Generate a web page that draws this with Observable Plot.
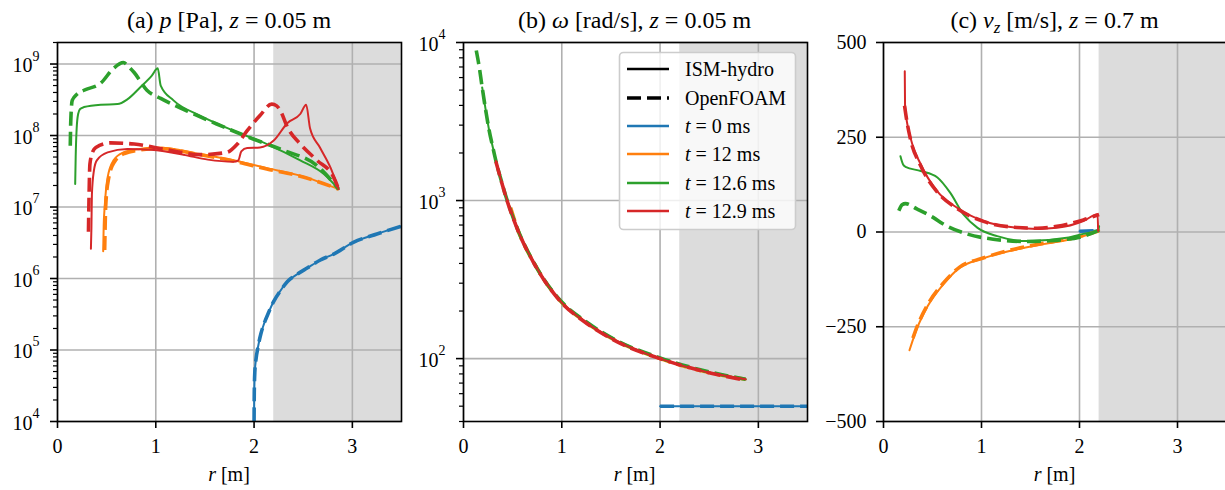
<!DOCTYPE html>
<html>
<head>
<meta charset="utf-8">
<script src="https://cdn.jsdelivr.net/npm/d3@7"></script>
<script src="https://cdn.jsdelivr.net/npm/@observablehq/plot@0.6"></script>
<style>
  body { margin: 0; background: #fff; }
  #fig { position: relative; width: 1225px; height: 490px; overflow: hidden; background: #fff;
         font-family: "Liberation Serif", "Times New Roman", serif; color: #000; }
  .panel { position: absolute; top: 0; }
  #fig svg text, #fig svg tspan { font-family: "Liberation Serif", "Times New Roman", serif !important; }
  #overlay { position: absolute; left: 0; top: 0; pointer-events: none; }
</style>
</head>
<body>
<div id="fig"></div>
<script>
// ---------------- data ----------------
const X_TICKS = [0, 1, 2, 3];
const SHADE = [2.2, 3.5];
const T_LABELS = ["0", "12", "12.6", "12.9"];
const T_COLORS = ["#1f77b4", "#ff7f0e", "#2ca02c", "#d62728"];
const MODEL_LABELS = ["ISM-hydro", "OpenFOAM"];

// (a) pressure p [Pa] vs r [m]
const A_MAJOR = [1e4, 1e5, 1e6, 1e7, 1e8, 1e9];
const A_EXP = ["4", "5", "6", "7", "8", "9"];
const pT0 = [[2.0, 1e4], [2.002, 2.5e4], [2.008, 5.0e4], [2.02, 7.5e4], [2.04, 1.1e5], [2.07, 1.7e5],
  [2.10, 2.3e5], [2.15, 3.4e5], [2.20, 4.8e5], [2.27, 6.8e5], [2.34, 9.1e5], [2.44, 1.15e6],
  [2.54, 1.4e6], [2.67, 1.8e6], [2.81, 2.2e6], [3.01, 3.2e6], [3.25, 4.2e6], [3.5, 5.4e6]];
const pIsm12 = [[0.465, 2.4e6], [0.47, 5.5e6], [0.48, 1.0e7], [0.51, 2.6e7], [0.57, 4.5e7], [0.67, 5.8e7],
  [0.84, 6.5e7], [1.02, 6.8e7], [1.45, 5.5e7], [1.79, 4.5e7], [2.13, 3.5e7], [2.47, 2.75e7], [2.86, 1.78e7]];
const pOf12 = [[0.48, 2.5e6], [0.485, 5.5e6], [0.49, 1.0e7], [0.52, 2.5e7], [0.58, 4.3e7], [0.68, 5.6e7],
  [0.85, 6.3e7], [1.02, 6.6e7], [1.45, 5.4e7], [1.79, 4.4e7], [2.13, 3.4e7], [2.47, 2.7e7], [2.86, 1.78e7]];
const pIsm126 = [[0.18, 2.1e7], [0.185, 5.0e7], [0.195, 1.26e8], [0.21, 2.0e8], [0.23, 2.35e8], [0.27, 2.5e8],
  [0.44, 2.7e8], [0.61, 2.75e8], [0.71, 3.2e8], [0.84, 4.7e8], [0.96, 6.9e8], [1.02, 8.7e8], [1.05, 5.0e8],
  [1.18, 3.1e8], [1.45, 1.9e8], [1.79, 1.17e8], [2.13, 7.6e7], [2.47, 4.5e7], [2.71, 2.9e7], [2.86, 1.78e7]];
const pOf126 = [[0.13, 7.2e7], [0.135, 1.6e8], [0.15, 3.1e8], [0.20, 3.8e8], [0.27, 4.3e8], [0.44, 5.4e8],
  [0.57, 8.7e8], [0.67, 1.05e9], [0.72, 9.3e8], [0.78, 7.6e8], [0.91, 4.3e8], [1.05, 3.3e8], [1.32, 2.2e8],
  [1.62, 1.45e8], [1.96, 9.3e7], [2.30, 6.2e7], [2.64, 3.8e7], [2.86, 1.78e7]];
const pIsm129 = [[0.34, 2.6e6], [0.345, 5.0e6], [0.35, 1.5e7], [0.37, 3.2e7], [0.40, 4.5e7], [0.51, 5.8e7],
  [0.71, 6.5e7], [0.95, 6.3e7], [1.28, 5.4e7], [1.53, 4.6e7], [1.79, 4.3e7], [1.84, 4.5e7], [1.87, 6.0e7],
  [1.93, 6.7e7], [2.06, 6.8e7], [2.20, 8.5e7], [2.34, 1.5e8], [2.47, 2.0e8], [2.53, 2.7e8], [2.57, 1.25e8],
  [2.67, 6.8e7], [2.78, 3.5e7], [2.86, 1.78e7]];
const pOf129 = [[0.315, 4.5e6], [0.32, 1.2e7], [0.33, 4.0e7], [0.36, 6.0e7], [0.39, 6.8e7], [0.54, 7.9e7],
  [0.78, 7.6e7], [1.12, 6.3e7], [1.45, 5.4e7], [1.72, 5.8e7], [1.83, 7.6e7], [1.93, 1.17e8], [2.06, 1.9e8],
  [2.18, 2.75e8], [2.23, 2.6e8], [2.27, 2.2e8], [2.34, 1.3e8], [2.47, 7.6e7], [2.64, 4.5e7], [2.81, 2.6e7],
  [2.86, 1.78e7]];

// (b) angular velocity omega [rad/s] vs r [m]
const B_MAJOR = [1e2, 1e3, 1e4];
const B_EXP = ["2", "3", "4"];
const wT0 = [[2.0, 50], [3.5, 50]];
const wIsm12 = [[0.47, 920], [0.55, 660], [0.72, 400], [1.0, 226], [1.22, 174], [1.56, 129], [2.0, 100],
  [2.41, 84], [2.87, 74]];
const wOf12 = [[0.48, 900], [0.55, 660], [0.72, 400], [1.0, 226], [1.22, 174], [1.56, 129], [2.0, 100],
  [2.41, 84], [2.87, 74]];
const wIsm126 = [[0.19, 5200], [0.23, 3600], [0.26, 2800], [0.30, 2150], [0.33, 1780], [0.39, 1300],
  [0.445, 1000], [0.55, 660], [0.72, 400], [1.0, 226], [1.22, 174], [1.56, 129], [2.0, 100], [2.41, 84], [2.87, 74]];
const wOf126 = [[0.13, 8900], [0.16, 7000], [0.19, 5200], [0.23, 3600], [0.26, 2800], [0.30, 2150],
  [0.33, 1780], [0.39, 1300], [0.445, 1000], [0.55, 660], [0.72, 400], [1.0, 228], [1.22, 176], [1.56, 130],
  [2.0, 101], [2.41, 85], [2.87, 74]];
const wIsm129 = [[0.33, 1780], [0.39, 1300], [0.445, 1000], [0.55, 660], [0.72, 400], [1.0, 226], [1.22, 174],
  [1.56, 129], [2.0, 100], [2.41, 84], [2.87, 74]];
const wOf129 = [[0.33, 1760], [0.39, 1290], [0.445, 990], [0.55, 655], [0.72, 398], [1.0, 225], [1.22, 173],
  [1.56, 128], [2.0, 100], [2.41, 84], [2.87, 73]];

// (c) axial velocity v_z [m/s] vs r [m]
const C_TICKS = [-500, -250, 0, 250, 500];
const vT0 = [[2.0, 2], [2.2, 4]];
const vIsm12 = [[0.265, -312], [0.33, -262], [0.45, -196], [0.61, -138], [0.78, -94], [1.0, -71], [1.29, -50],
  [1.63, -32], [1.98, -15], [2.14, -2], [2.2, 5]];
const vOf12 = [[0.30, -280], [0.33, -258], [0.45, -192], [0.61, -135], [0.78, -92], [1.0, -70], [1.29, -48],
  [1.63, -30], [1.98, -13], [2.2, 3]];
const vIsm126 = [[0.173, 200], [0.20, 178], [0.224, 172], [0.38, 161], [0.55, 144], [0.68, 104], [0.82, 45],
  [0.96, 11], [1.16, -11], [1.46, -24], [1.87, -15], [2.04, -5], [2.19, 3], [2.2, 15]];
const vOf126 = [[0.156, 56], [0.19, 72], [0.224, 75], [0.34, 61], [0.51, 38], [0.61, 21], [0.85, -5],
  [1.12, -19], [1.46, -25], [1.70, -23], [2.04, -11], [2.2, 5]];
const vIsm129 = [[0.217, 424], [0.22, 330], [0.275, 249], [0.377, 180], [0.547, 108], [0.75, 64], [1.02, 29],
  [1.36, 11], [1.57, 8], [1.77, 11], [2.04, 29], [2.185, 47], [2.19, 3]];
const vOf129 = [[0.215, 333], [0.24, 290], [0.275, 245], [0.377, 176], [0.547, 106], [0.75, 62], [1.02, 28],
  [1.36, 12], [1.57, 10], [1.77, 15], [2.04, 32], [2.2, 46]];

// ---------------- drawing ----------------
const GRID = "#b0b0b0";
const FONT = '"Liberation Serif", "Times New Roman", serif';
const H = 490, MT = 42, MB = 69;

function seriesMarks(list) {
  const marks = [];
  list.forEach((pair, i) => {
    const [ism, of] = pair;
    if (ism) marks.push(Plot.line(ism, {x: d => d[0], y: d => d[1], stroke: T_COLORS[i], strokeWidth: 2,
      curve: "monotone-x", clip: true}));
    if (of) marks.push(Plot.line(of, {x: d => d[0], y: d => d[1], stroke: T_COLORS[i], strokeWidth: 3.6,
      strokeDasharray: "14,6", strokeLinecap: "butt", curve: "monotone-x", clip: true}));
  });
  return marks;
}

function logMinors(lo, hi) {
  const out = [];
  for (let e = Math.floor(Math.log10(lo)); e <= Math.ceil(Math.log10(hi)); e++) {
    for (let k = 2; k <= 9; k++) { const v = k * Math.pow(10, e); if (v >= lo && v <= hi) out.push(v); }
  }
  return out;
}

function panel(cfg) {
  const marks = [
    Plot.rect([SHADE], {x1: d => d[0], x2: d => d[1], fill: "#dcdcdc"}),
    Plot.gridX(X_TICKS, {stroke: GRID, strokeOpacity: 1, strokeWidth: 1.6}),
    Plot.gridY(cfg.gridY, {stroke: GRID, strokeOpacity: 1, strokeWidth: 1.6}),
    ...seriesMarks(cfg.series),
    Plot.axisX(X_TICKS, {tickSize: 7, tickPadding: 10, strokeWidth: 1.6, fontSize: 20, fontFamily: FONT,
      fill: "black", label: null, tickFormat: d => String(d)})
  ];
  if (cfg.log) {
    const exps = cfg.majors.map((v, i) => ({v, e: cfg.exps[i]}));
    marks.push(
      Plot.axisY(cfg.majors, {tickSize: 7, strokeWidth: 1.6, tickFormat: () => "", label: null}),
      Plot.axisY(logMinors(cfg.yDomain[0], cfg.yDomain[1]), {tickSize: 4, strokeWidth: 1.2, tickFormat: () => "", label: null}),
      Plot.text(cfg.majors, {y: d => d, frameAnchor: "left", text: () => "10", textAnchor: "end",
        dx: -25, dy: 2, fontSize: 20, fontFamily: FONT, fill: "black"}),
      Plot.text(exps, {y: "v", frameAnchor: "left", text: "e", textAnchor: "start",
        dx: -25, dy: -8, fontSize: 14, fontFamily: FONT, fill: "black"})
    );
  } else {
    marks.push(Plot.axisY(cfg.majors, {tickSize: 7, tickPadding: 10, strokeWidth: 1.6, fontSize: 20,
      fontFamily: FONT, fill: "black", label: null,
      tickFormat: d => d < 0 ? "\u2212" + Math.abs(d) : String(d)}));
  }
  marks.push(Plot.frame({stroke: "black", strokeWidth: 1.6}));
  const svg = Plot.plot({
    width: cfg.width, height: H,
    marginLeft: cfg.mL, marginRight: cfg.mR, marginTop: MT, marginBottom: MB,
    x: {domain: [0, 3.5]},
    y: cfg.log ? {type: "log", domain: cfg.yDomain} : {domain: cfg.yDomain},
    style: {fontFamily: FONT, fontSize: "20px", color: "black", background: "transparent", overflow: "visible"},
    marks
  });
  svg.classList.add("panel");
  svg.style.left = cfg.left + "px";
  d3.select(svg).selectAll("text").style("font-family", FONT);
  return svg;
}

const fig = document.getElementById("fig");
fig.appendChild(panel({
  left: 0, width: 405, mL: 57, mR: 4, log: true, yDomain: [1e4, 2e9], majors: A_MAJOR, exps: A_EXP, gridY: A_MAJOR,
  series: [[pT0, pT0], [pIsm12, pOf12], [pIsm126, pOf126], [pIsm129, pOf129]]
}));
fig.appendChild(panel({
  left: 405, width: 405, mL: 58, mR: 3, log: true, yDomain: [40, 1e4], majors: B_MAJOR, exps: B_EXP, gridY: B_MAJOR,
  series: [[wT0, wT0], [wIsm12, wOf12], [wIsm126, wOf126], [wIsm129, wOf129]]
}));
fig.appendChild(panel({
  left: 820, width: 406, mL: 63, mR: 0, log: false, yDomain: [-500, 500], majors: C_TICKS, gridY: C_TICKS,
  series: [[vT0, vT0], [vIsm12, vOf12], [vIsm126, vOf126], [vIsm129, vOf129]]
}));

// overlay: titles, x labels, legend
const ov = d3.select(fig).append("svg").attr("id", "overlay")
  .attr("width", 1225).attr("height", 490)
  .style("font-family", FONT).style("fill", "black");

const centers = [229, 634.5, 1054.5];
const titles = [
  [["(a) ", ""], ["p", "i"], [" [Pa], ", ""], ["z", "i"], [" = 0.05 m", ""]],
  [["(b) ", ""], ["\u03c9", "i"], [" [rad/s], ", ""], ["z", "i"], [" = 0.05 m", ""]],
  [["(c) ", ""], ["v", "i"], ["z", "sub"], [" [m/s], ", "up"], ["z", "i"], [" = 0.7 m", ""]]
];
titles.forEach((parts, k) => {
  const t = ov.append("text").attr("x", centers[k]).attr("y", 28).attr("text-anchor", "middle").attr("font-size", 24);
  parts.forEach(([s, st]) => {
    const ts = t.append("tspan").text(s);
    if (st === "i") ts.attr("font-style", "italic");
    if (st === "sub") ts.attr("font-style", "italic").attr("font-size", 17).attr("dy", 5);
    if (st === "up") ts.attr("dy", -5);
  });
  const xl = ov.append("text").attr("x", centers[k]).attr("y", 481).attr("text-anchor", "middle").attr("font-size", 20);
  xl.append("tspan").attr("font-style", "italic").text("r");
  xl.append("tspan").text(" [m]");
});

// legend in panel (b)
const LX = 619, LY = 52, LW = 176, LH = 177;
ov.append("rect").attr("x", LX + 0.5).attr("y", LY + 0.5).attr("width", LW).attr("height", LH)
  .attr("rx", 4).attr("fill", "white").attr("fill-opacity", 0.8).attr("stroke", "#cccccc").attr("stroke-width", 1.6);
const rowY = [69, 98, 126, 154, 183, 211];
const rows = [
  {color: "black", dash: null, w: 2.4, parts: [[MODEL_LABELS[0], ""]]},
  {color: "black", dash: "14,6", w: 3.6, parts: [[MODEL_LABELS[1], ""]]},
  ...T_LABELS.map((l, i) => ({color: T_COLORS[i], dash: null, w: 2.4, parts: [["t", "i"], [" = " + l + " ms", ""]]}))
];
rows.forEach((r, i) => {
  const ln = ov.append("line").attr("x1", 627).attr("x2", 669).attr("y1", rowY[i]).attr("y2", rowY[i])
    .attr("stroke", r.color).attr("stroke-width", r.w);
  if (r.dash) ln.attr("stroke-dasharray", r.dash);
  const t = ov.append("text").attr("x", 685).attr("y", rowY[i] + 7).attr("font-size", 20);
  r.parts.forEach(([s, st]) => { const ts = t.append("tspan").text(s); if (st === "i") ts.attr("font-style", "italic"); });
});
</script>
</body>
</html>
